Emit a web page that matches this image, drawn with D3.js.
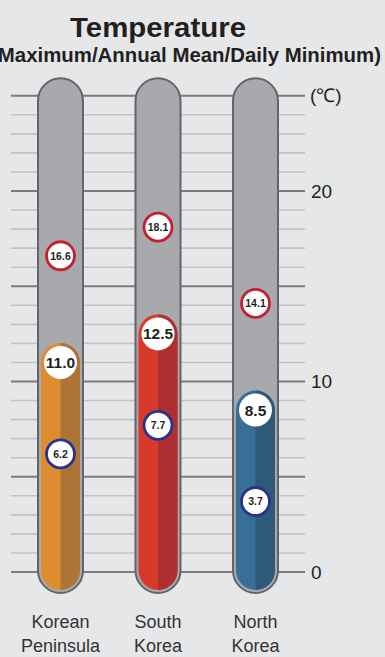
<!DOCTYPE html>
<html>
<head>
<meta charset="utf-8">
<script src="https://cdn.jsdelivr.net/npm/d3@7"></script>
<style>
  html, body { margin: 0; padding: 0; background: #e6e7e9; }
  svg { display: block; font-family: "Liberation Sans", Arial, Helvetica, sans-serif; }
</style>
</head>
<body>
<svg id="chart" width="385" height="657"></svg>
<script>
// Regions and their temperature figures (°C)
const categories = ["Korean Peninsula", "South Korea", "North Korea"];
const categoryLines = [["Korean", "Peninsula"], ["South", "Korea"], ["North", "Korea"]];
const maxValues = [16.6, 18.1, 14.1];
const meanValues = [11.0, 12.5, 8.5];
const minValues = [6.2, 7.7, 3.7];
const tickValues = [0, 10, 20];
const unitLabel = "(℃)";

const fillLight = ["#df8c31", "#d83a2a", "#386f97"];
const fillDark = ["#ac7436", "#ad2f30", "#2f5979"];

const svg = d3.select("#chart");
const W = 385, H = 657;

const y = d3.scaleLinear().domain([0, 25]).range([572, 95.75]);
const x = d3.scalePoint().domain(categories).range([60.5, 255.5]);

// Title
svg.append("text").attr("x", 158).attr("y", 37).attr("text-anchor", "middle")
  .attr("font-size", 28).attr("font-weight", "bold").attr("fill", "#231f20")
  .attr("textLength", 176).attr("lengthAdjust", "spacingAndGlyphs")
  .text("Temperature");
svg.append("text").attr("x", 381).attr("y", 62).attr("text-anchor", "end")
  .attr("font-size", 19.5).attr("font-weight", "bold").attr("fill", "#231f20")
  .attr("textLength", 390).attr("lengthAdjust", "spacingAndGlyphs")
  .text("(Maximum/Annual Mean/Daily Minimum)");

// Grid lines: every 1°C, darker every 5°C
const gridVals = d3.range(0, 26);
svg.append("g").selectAll("line").data(gridVals).join("line")
  .attr("x1", 11).attr("x2", 305)
  .attr("y1", d => y(d)).attr("y2", d => y(d))
  .attr("stroke", d => d % 5 === 0 ? "#7b7c7f" : "#c2c3c5")
  .attr("stroke-width", d => d % 5 === 0 ? 2 : 1.6);

// Axis labels on the right
const axis = d3.axisRight(y).tickValues(tickValues).tickSize(0).tickPadding(0)
  .tickFormat(d3.format("d"));
const axisG = svg.append("g").attr("transform", "translate(311,0)").call(axis);
axisG.select(".domain").remove();
axisG.selectAll("text").attr("font-size", 19).attr("fill", "#231f20")
  .attr("font-family", "\"Liberation Sans\", Arial, sans-serif");
svg.append("text").attr("x", 310).attr("y", y(25)).attr("dy", "0.35em")
  .attr("font-size", 19).attr("fill", "#231f20").text(unitLabel);

// Thermometers
const tubeR = 22.5;
const tubeTop = y(25) - 17.5;
const tubeBottom = y(0) + 21;
const innerR = 19.5;

const defs = svg.append("defs");

categories.forEach((c, i) => {
  const cx = x(c);
  const g = svg.append("g");

  // tube body
  g.append("rect")
    .attr("x", cx - tubeR).attr("y", tubeTop)
    .attr("width", tubeR * 2).attr("height", tubeBottom - tubeTop)
    .attr("rx", tubeR).attr("fill", "#a7a9ac")
    .attr("stroke", "#646569").attr("stroke-width", 2);

  // liquid column up to the annual mean
  const colTop = y(meanValues[i]) - innerR;
  const colBottom = tubeBottom - 3;
  const colAttrs = sel => sel
    .attr("x", cx - innerR).attr("y", colTop)
    .attr("width", innerR * 2).attr("height", colBottom - colTop)
    .attr("rx", innerR);

  g.append("rect").call(colAttrs).attr("fill", fillLight[i]);

  const clipId = "half" + i;
  defs.append("clipPath").attr("id", clipId).append("rect")
    .attr("x", cx).attr("y", 0).attr("width", innerR + 2).attr("height", H);
  g.append("rect").call(colAttrs).attr("fill", fillDark[i])
    .attr("clip-path", `url(#${clipId})`);

  // mean marker
  g.append("circle").attr("cx", cx).attr("cy", y(meanValues[i])).attr("r", 16.5)
    .attr("fill", "#ffffff");
  g.append("text").attr("x", cx).attr("y", y(meanValues[i])).attr("dy", "0.36em")
    .attr("text-anchor", "middle").attr("font-size", 15.5).attr("font-weight", "bold")
    .attr("fill", "#231f20").text(d3.format(".1f")(meanValues[i]));

  // maximum marker
  g.append("circle").attr("cx", cx).attr("cy", y(maxValues[i])).attr("r", 14)
    .attr("fill", "#ffffff").attr("stroke", "#c71f32").attr("stroke-width", 2.8);
  g.append("text").attr("x", cx).attr("y", y(maxValues[i])).attr("dy", "0.36em")
    .attr("text-anchor", "middle").attr("font-size", 10.5).attr("font-weight", "bold")
    .attr("fill", "#231f20").text(d3.format(".1f")(maxValues[i]));

  // minimum marker
  g.append("circle").attr("cx", cx).attr("cy", y(minValues[i])).attr("r", 14)
    .attr("fill", "#ffffff").attr("stroke", "#27338c").attr("stroke-width", 2.8);
  g.append("text").attr("x", cx).attr("y", y(minValues[i])).attr("dy", "0.36em")
    .attr("text-anchor", "middle").attr("font-size", 10.5).attr("font-weight", "bold")
    .attr("fill", "#231f20").text(d3.format(".1f")(minValues[i]));

  // category label
  const t = svg.append("text").attr("x", cx).attr("text-anchor", "middle")
    .attr("font-size", 18).attr("fill", "#333333");
  categoryLines[i].forEach((line, k) => {
    t.append("tspan").attr("x", cx).attr("y", 628 + k * 24).text(line);
  });
});
</script>
</body>
</html>
